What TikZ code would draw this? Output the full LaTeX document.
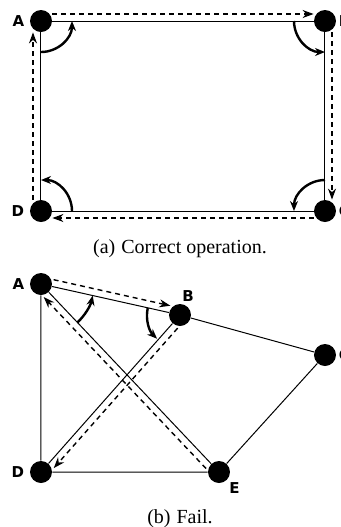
\documentclass[tikz,border=0pt]{standalone}
\usepackage{fontspec}
\setmainfont{Liberation Serif}
\newfontfamily\lblfont{DejaVu Sans}
\usetikzlibrary{calc,arrows.meta}

\tikzset{
  dot/.style={circle, fill=black, inner sep=0pt, minimum size=11pt},
  lbl/.style={font=\lblfont\bfseries\fontsize{7.5}{9}\selectfont, inner sep=1pt},
  link/.style={line width=0.5pt},
  flow/.style={line width=0.7pt, dash pattern=on 2.5pt off 2pt,
    -{Stealth[length=5.5pt, width=4pt]}},
  turn/.style={line width=1.2pt, -{Stealth[length=5pt, width=4pt]}},
}

\begin{document}
\begin{tikzpicture}[x=0.5pt, y=0.5pt]
  \useasboundingbox (0,0) rectangle (341,-527);

  % (a) correct operation
  \node[dot] (aA) at (41,-21) {};
  \node[dot] (aB) at (325,-21) {};
  \node[dot] (aC) at (325,-211) {};
  \node[dot] (aD) at (41,-211) {};

  \draw[link] (aA) -- (aB) -- (aC) -- (aD) -- (aA);

  \draw[flow, transform canvas={shift={(0,7)}}]  (aA) -- (aB);
  \draw[flow, transform canvas={shift={(7,0)}}]  (aB) -- (aC);
  \draw[flow, transform canvas={shift={(0,-7)}}] (aC) -- (aD);
  \draw[flow, transform canvas={shift={(-8,0)}}] (aD) -- (aA);

  % turning arcs at the corners
  \draw[turn] ($(aA)+(-90:31)$) arc[start angle=-90, end angle=0,   radius=31];
  \draw[turn] ($(aB)+(180:31)$) arc[start angle=180, end angle=270, radius=31];
  \draw[turn] ($(aC)+(90:31)$)  arc[start angle=90,  end angle=180, radius=31];
  \draw[turn] ($(aD)+(0:31)$)   arc[start angle=0,   end angle=90,  radius=31];

  \node[lbl, left=1.5pt] at (aA.west) {A};
  \node[lbl, right]      at (aB.east) {B};
  \node[lbl, right]      at (aC.east) {C};
  \node[lbl, left=1.5pt] at (aD.west) {D};

  \node[anchor=base] (capa) at (180,-253) {(a)\hspace{3pt}Correct operation.};

  % (b) fail
  \node[dot] (bA) at (41,-284) {};
  \node[dot] (bB) at (180,-315) {};
  \node[dot] (bC) at (325,-355) {};
  \node[dot] (bD) at (41,-472) {};
  \node[dot] (bE) at (219,-472) {};

  \draw[link] (bA) -- (bB) -- (bC) -- (bE) -- (bD) -- (bA);
  \draw[link] (bA) -- (bE);
  \draw[link] (bB) -- (bD);

  \draw[flow, transform canvas={shift={(1.5,6.8)}}]  (bA) -- (bB);
  \draw[flow, transform canvas={shift={(5.2,-4.6)}}] (bB) -- (bD);
  \draw[flow, transform canvas={shift={(-5.1,-4.8)}}] (bE) -- (bA);

  \draw[turn] ($(bA)+(-46.6:53)$) arc[start angle=-46.6, end angle=-12.6, radius=53];
  \draw[turn] ($(bB)+(168:33)$)   arc[start angle=168,   end angle=226,   radius=33];

  \node[lbl, left=1.5pt]  at (bA.west)        {A};
  \node[lbl, above right] at (bB.north)       {B};
  \node[lbl, right]       at (bC.east)        {C};
  \node[lbl, left=1.5pt]  at (bD.west)        {D};
  \node[lbl, below right] at (bE.south east)  {E};

  \node[anchor=base] (capb) at (180,-523) {(b)\hspace{3pt}Fail.};
\end{tikzpicture}
\end{document}
